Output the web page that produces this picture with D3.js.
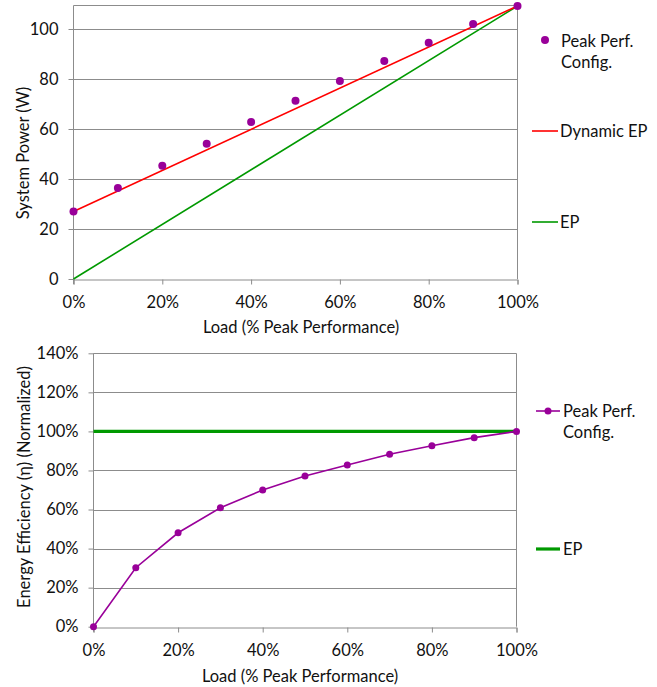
<!DOCTYPE html>
<html>
<head>
<meta charset="utf-8">
<script src="https://cdn.jsdelivr.net/npm/d3@7"></script>
<style>
  body { margin: 0; background: #fff; }
  svg text { font-family: Lato, "Open Sans", sans-serif; fill: #111; }
</style>
</head>
<body>
<div id="chart"></div>
<script>
const loads = [0, 0.1, 0.2, 0.3, 0.4, 0.5, 0.6, 0.7, 0.8, 0.9, 1.0];
const powerPeak = [27, 36.4, 45.3, 54.1, 62.8, 71.3, 79.2, 87.2, 94.5, 102, 109.2];
const powerDynamicEP = [27, 109.2];   // at load 0 and 1
const powerEP = [0, 109.2];
const efficiencyPeak = [0, 0.302, 0.481, 0.609, 0.70, 0.772, 0.828, 0.883, 0.927, 0.968, 1.0];
const efficiencyEP = [1.0, 1.0];
const xTicks = [0, 0.2, 0.4, 0.6, 0.8, 1.0];
const powerTicks = [0, 20, 40, 60, 80, 100];
const effTicks = [0, 0.2, 0.4, 0.6, 0.8, 1.0, 1.2, 1.4];

const width = 657, height = 687;
const purple = "#990099", red = "#ff0000", green = "#009900", gridColor = "#8c8c8c";
const fs = 16.5;

const svg = d3.select("#chart")
  .append("svg")
  .attr("width", width)
  .attr("height", height);

const pct = d3.format(".0%");

// ---------- top chart: system power ----------
let x1 = d3.scaleLinear().domain([0, 1]).range([73.5, 517.5]);
let y1 = d3.scaleLinear().domain([0, 109.4]).range([279, 5.5]);

const g1 = svg.append("g");

g1.append("g")
  .selectAll("line")
  .data(powerTicks.filter(d => d > 0))
  .join("line")
  .attr("x1", x1(0)).attr("x2", x1(1))
  .attr("y1", d => Math.round(y1(d)) + 0.5).attr("y2", d => Math.round(y1(d)) + 0.5)
  .attr("stroke", gridColor);

// plot frame (top and right)
g1.append("path")
  .attr("d", `M${x1(0)},${y1.range()[1]}H${x1(1)}V${y1(0)}`)
  .attr("fill", "none")
  .attr("stroke", gridColor);

g1.append("g")
  .attr("transform", `translate(0,${Math.round(y1(0)) + 0.5})`)
  .call(d3.axisBottom(x1).tickValues(xTicks).tickFormat(pct).tickSize(5).tickPadding(12))
  .call(g => g.select(".domain").attr("stroke", gridColor))
  .call(g => g.selectAll(".tick line").attr("stroke", gridColor))
  .call(g => g.selectAll(".tick text").attr("font-size", fs).style("font-family", "Lato"));

g1.append("g")
  .attr("transform", `translate(${x1(0)},0)`)
  .call(d3.axisLeft(y1).tickValues(powerTicks).tickSize(5).tickPadding(10))
  .call(g => g.select(".domain").attr("stroke", gridColor).attr("d", `M0,${y1.range()[1]}V${y1(0) + 5}`))
  .call(g => g.selectAll(".tick line").attr("stroke", gridColor))
  .call(g => g.selectAll(".tick text").attr("font-size", fs).style("font-family", "Lato"));

const line1 = d3.line().x(d => x1(d[0])).y(d => y1(d[1]));

g1.append("path")
  .datum([[0, powerEP[0]], [1, powerEP[1]]])
  .attr("d", line1)
  .attr("fill", "none")
  .attr("stroke", green)
  .attr("stroke-width", 1.6);

g1.append("path")
  .datum([[0, powerDynamicEP[0]], [1, powerDynamicEP[1]]])
  .attr("d", line1)
  .attr("fill", "none")
  .attr("stroke", red)
  .attr("stroke-width", 1.6);

g1.append("g")
  .attr("fill", purple)
  .selectAll("circle")
  .data(loads.map((l, i) => [l, powerPeak[i]]))
  .join("circle")
  .attr("cx", d => x1(d[0]))
  .attr("cy", d => y1(d[1]))
  .attr("r", 4);

g1.append("text")
  .attr("transform", `translate(29,153) rotate(-90)`)
  .attr("text-anchor", "middle")
  .attr("font-size", fs)
  .text("System Power (W)");

g1.append("text")
  .attr("x", 301).attr("y", 333)
  .attr("text-anchor", "middle")
  .attr("font-size", fs)
  .text("Load (% Peak Performance)");

// legend top
const leg1 = g1.append("g");
leg1.append("circle").attr("cx", 545).attr("cy", 40).attr("r", 4).attr("fill", purple);
leg1.append("text").attr("x", 561).attr("y", 47).attr("font-size", fs).text("Peak Perf.");
leg1.append("text").attr("x", 561).attr("y", 68).attr("font-size", fs).text("Config.");
leg1.append("line").attr("x1", 532).attr("x2", 558).attr("y1", 131).attr("y2", 131)
  .attr("stroke", red).attr("stroke-width", 1.6);
leg1.append("text").attr("x", 560).attr("y", 137).attr("font-size", fs).text("Dynamic EP");
leg1.append("line").attr("x1", 532).attr("x2", 558).attr("y1", 222).attr("y2", 222)
  .attr("stroke", green).attr("stroke-width", 1.6);
leg1.append("text").attr("x", 560).attr("y", 228).attr("font-size", fs).text("EP");

// ---------- bottom chart: energy efficiency ----------
let x2 = d3.scaleLinear().domain([0, 1]).range([93.5, 516.5]);
let y2 = d3.scaleLinear().domain([0, 1.4]).range([626.7, 353.3]);

const g2 = svg.append("g");

g2.append("g")
  .selectAll("line")
  .data(effTicks.filter(d => d > 0))
  .join("line")
  .attr("x1", x2(0)).attr("x2", x2(1))
  .attr("y1", d => Math.round(y2(d)) + 0.5).attr("y2", d => Math.round(y2(d)) + 0.5)
  .attr("stroke", gridColor);

g2.append("path")
  .attr("d", `M${x2(1)},${Math.round(y2(1.4)) + 0.5}V${y2(0)}`)
  .attr("fill", "none")
  .attr("stroke", gridColor);

g2.append("g")
  .attr("transform", `translate(0,${Math.round(y2(0)) + 0.5})`)
  .call(d3.axisBottom(x2).tickValues(xTicks).tickFormat(pct).tickSize(5).tickPadding(12))
  .call(g => g.select(".domain").attr("stroke", gridColor))
  .call(g => g.selectAll(".tick line").attr("stroke", gridColor))
  .call(g => g.selectAll(".tick text").attr("font-size", fs).style("font-family", "Lato"));

g2.append("g")
  .attr("transform", `translate(${x2(0)},0)`)
  .call(d3.axisLeft(y2).tickValues(effTicks).tickFormat(pct).tickSize(5).tickPadding(10))
  .call(g => g.select(".domain").attr("stroke", gridColor).attr("d", `M0,${y2(1.4)}V${y2(0) + 5}`))
  .call(g => g.selectAll(".tick line").attr("stroke", gridColor))
  .call(g => g.selectAll(".tick text").attr("font-size", fs).style("font-family", "Lato"));

const line2 = d3.line().x(d => x2(d[0])).y(d => y2(d[1]));

g2.append("path")
  .datum([[0, efficiencyEP[0]], [1, efficiencyEP[1]]])
  .attr("d", line2)
  .attr("fill", "none")
  .attr("stroke", green)
  .attr("stroke-width", 3.2);

const effData = loads.map((l, i) => [l, efficiencyPeak[i]]);

g2.append("path")
  .datum(effData)
  .attr("d", line2)
  .attr("fill", "none")
  .attr("stroke", purple)
  .attr("stroke-width", 1.6);

g2.append("g")
  .attr("fill", purple)
  .selectAll("circle")
  .data(effData)
  .join("circle")
  .attr("cx", d => x2(d[0]))
  .attr("cy", d => y2(d[1]))
  .attr("r", 3.5);

g2.append("text")
  .attr("transform", `translate(30,487) rotate(-90)`)
  .attr("text-anchor", "middle")
  .attr("font-size", fs)
  .text("Energy Efficiency (η) (Normalized)");

g2.append("text")
  .attr("x", 300).attr("y", 682)
  .attr("text-anchor", "middle")
  .attr("font-size", fs)
  .text("Load (% Peak Performance)");

// legend bottom
const leg2 = g2.append("g");
leg2.append("line").attr("x1", 536).attr("x2", 560).attr("y1", 411).attr("y2", 411)
  .attr("stroke", purple).attr("stroke-width", 1.6);
leg2.append("circle").attr("cx", 548).attr("cy", 411).attr("r", 3.5).attr("fill", purple);
leg2.append("text").attr("x", 563).attr("y", 417).attr("font-size", fs).text("Peak Perf.");
leg2.append("text").attr("x", 563).attr("y", 438).attr("font-size", fs).text("Config.");
leg2.append("line").attr("x1", 536).attr("x2", 560).attr("y1", 549).attr("y2", 549)
  .attr("stroke", green).attr("stroke-width", 3.2);
leg2.append("text").attr("x", 563).attr("y", 555).attr("font-size", fs).text("EP");
</script>
</body>
</html>
